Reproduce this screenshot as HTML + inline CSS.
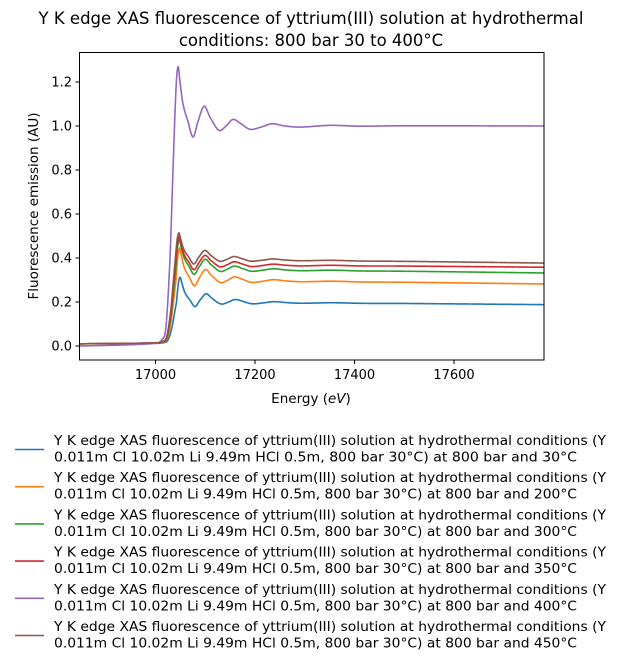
<!DOCTYPE html>
<html><head><meta charset="utf-8"><style>
html,body{margin:0;padding:0;background:#fff;}
svg{display:block;font-family:"DejaVu Sans","Liberation Sans",sans-serif;}
</style></head><body>
<svg id="s" width="622" height="666" xmlns="http://www.w3.org/2000/svg">
<text x="311" y="24" font-size="16.5" text-anchor="middle">Y K edge XAS fluorescence of yttrium(III) solution at hydrothermal</text>
<text x="311" y="46" font-size="16.5" text-anchor="middle">conditions: 800 bar 30 to 400°C</text>
<defs><clipPath id="c"><rect x="79.5" y="52.5" width="464.5" height="307.5"/></clipPath></defs>
<g id="curves" clip-path="url(#c)"></g>
<rect x="79.5" y="52.5" width="464.5" height="307.5" fill="none" stroke="#000" stroke-width="1"/>
<g font-size="13" fill="#000" id="ticks"></g>
<text x="311" y="403" font-size="13.5" text-anchor="middle">Energy (<tspan font-style="italic">eV</tspan>)</text>
<text transform="translate(38,206) rotate(-90)" font-size="13.5" text-anchor="middle">Fluorescence emission (AU)</text>
<g id="leg" font-size="13.2"></g>
</svg>
<script>
var NS="http://www.w3.org/2000/svg";
function el(t,a,p,txt){var e=document.createElementNS(NS,t);for(var k in a)e.setAttribute(k,a[k]);if(txt!==undefined)e.textContent=txt;p.appendChild(e);return e;}
var tk=document.getElementById('ticks');
var yt=[0,0.2,0.4,0.6,0.8,1.0,1.2];
yt.forEach(function(v){var y=346-v*220;el('line',{x1:75.5,x2:79.5,y1:y,y2:y,stroke:'#000'},tk);el('text',{x:72,y:y+4.5,'text-anchor':'end'},tk,v.toFixed(1));});
[17000,17200,17400,17600].forEach(function(E){var x=155.5+(E-17000)*0.4975;el('line',{x1:x,x2:x,y1:360,y2:364,stroke:'#000'},tk);el('text',{x:x,y:379,'text-anchor':'middle'},tk,E);});
var T=[[60,0],[79,0],[155,0.012],[162,0.03],[166,0.09],[170,0.4],[173,0.8],[176,1.17],[178,1.27],[180,1.2],[183,1.1],[188,1.02],[193,0.95],[198,1.02],[204,1.09],[210,1.04],[219,0.98],[226,1.0],[233,1.03],[241,1.01],[250,0.985],[261,0.995],[272,1.01],[285,1.0],[300,0.995],[330,1.003],[360,0.999],[400,1.001],[544,1.0],[600,1.0]];
function g(x){if(x<=T[1][0])return 0;for(var i=2;i<T.length-1;i++){if(x<=T[i][0]){var p0=T[i-2],p1=T[i-1],p2=T[i],p3=T[i+1];var t=(x-p1[0])/(p2[0]-p1[0]);
var m1=(p2[1]-p0[1])/(p2[0]-p0[0])*(p2[0]-p1[0]),m2=(p3[1]-p1[1])/(p3[0]-p1[0])*(p2[0]-p1[0]);
var t2=t*t,t3=t2*t;return (2*t3-3*t2+1)*p1[1]+(t3-2*t2+t)*m1+(-2*t3+3*t2)*p2[1]+(t3-t2)*m2;}}return 1;}
var C=[
['#1f77b4',0.01,0.2,2.2,0.012,2],
['#ff7f0e',0.01,0.3,1.85,0.018,1.5],
['#2ca02c',0.01,0.35,1.45,0.018,1.2],
['#d62728',0.01,0.37,1.3,0.012,1],
['#9467bd',0.0,1.0,1.0,0,0],
['#8c564b',0.01,0.395,1.15,0.018,0.8]];
var cg=document.getElementById('curves');
C.forEach(function(c){var d='';for(var x=79;x<=545;x+=0.5){var v=g(x-c[5]);if(x-c[5]>172&&v>1)v=1+c[3]*(v-1);else if(x-c[5]>185)v=1+c[3]*(v-1);var val=c[1]+(c[2]-c[1])*v;if(x>200)val-=c[4]*(x-200)/344*(val>0.1?1:0);var y=346-val*220;d+=(d?'L':'M')+x+' '+y.toFixed(2);}
el('path',{d:d,fill:'none',stroke:c[0],'stroke-width':1.6,'stroke-linejoin':'round'},cg);});
var lg=document.getElementById('leg');
var temps=['30','200','300','350','400','450'];
C.forEach(function(c,i){var y0=449.5+i*37.2;el('line',{x1:15,x2:44,y1:y0,y2:y0,stroke:c[0],'stroke-width':1.6},lg);
el('text',{x:54,y:y0-4.5,textLength:552,lengthAdjust:'spacingAndGlyphs'},lg,'Y K edge XAS fluorescence of yttrium(III) solution at hydrothermal conditions (Y');
el('text',{x:54,y:y0+12,textLength:523,lengthAdjust:'spacingAndGlyphs'},lg,'0.011m Cl 10.02m Li 9.49m HCl 0.5m, 800 bar 30°C) at 800 bar and '+temps[i]+'°C');});
</script>
</body></html>
